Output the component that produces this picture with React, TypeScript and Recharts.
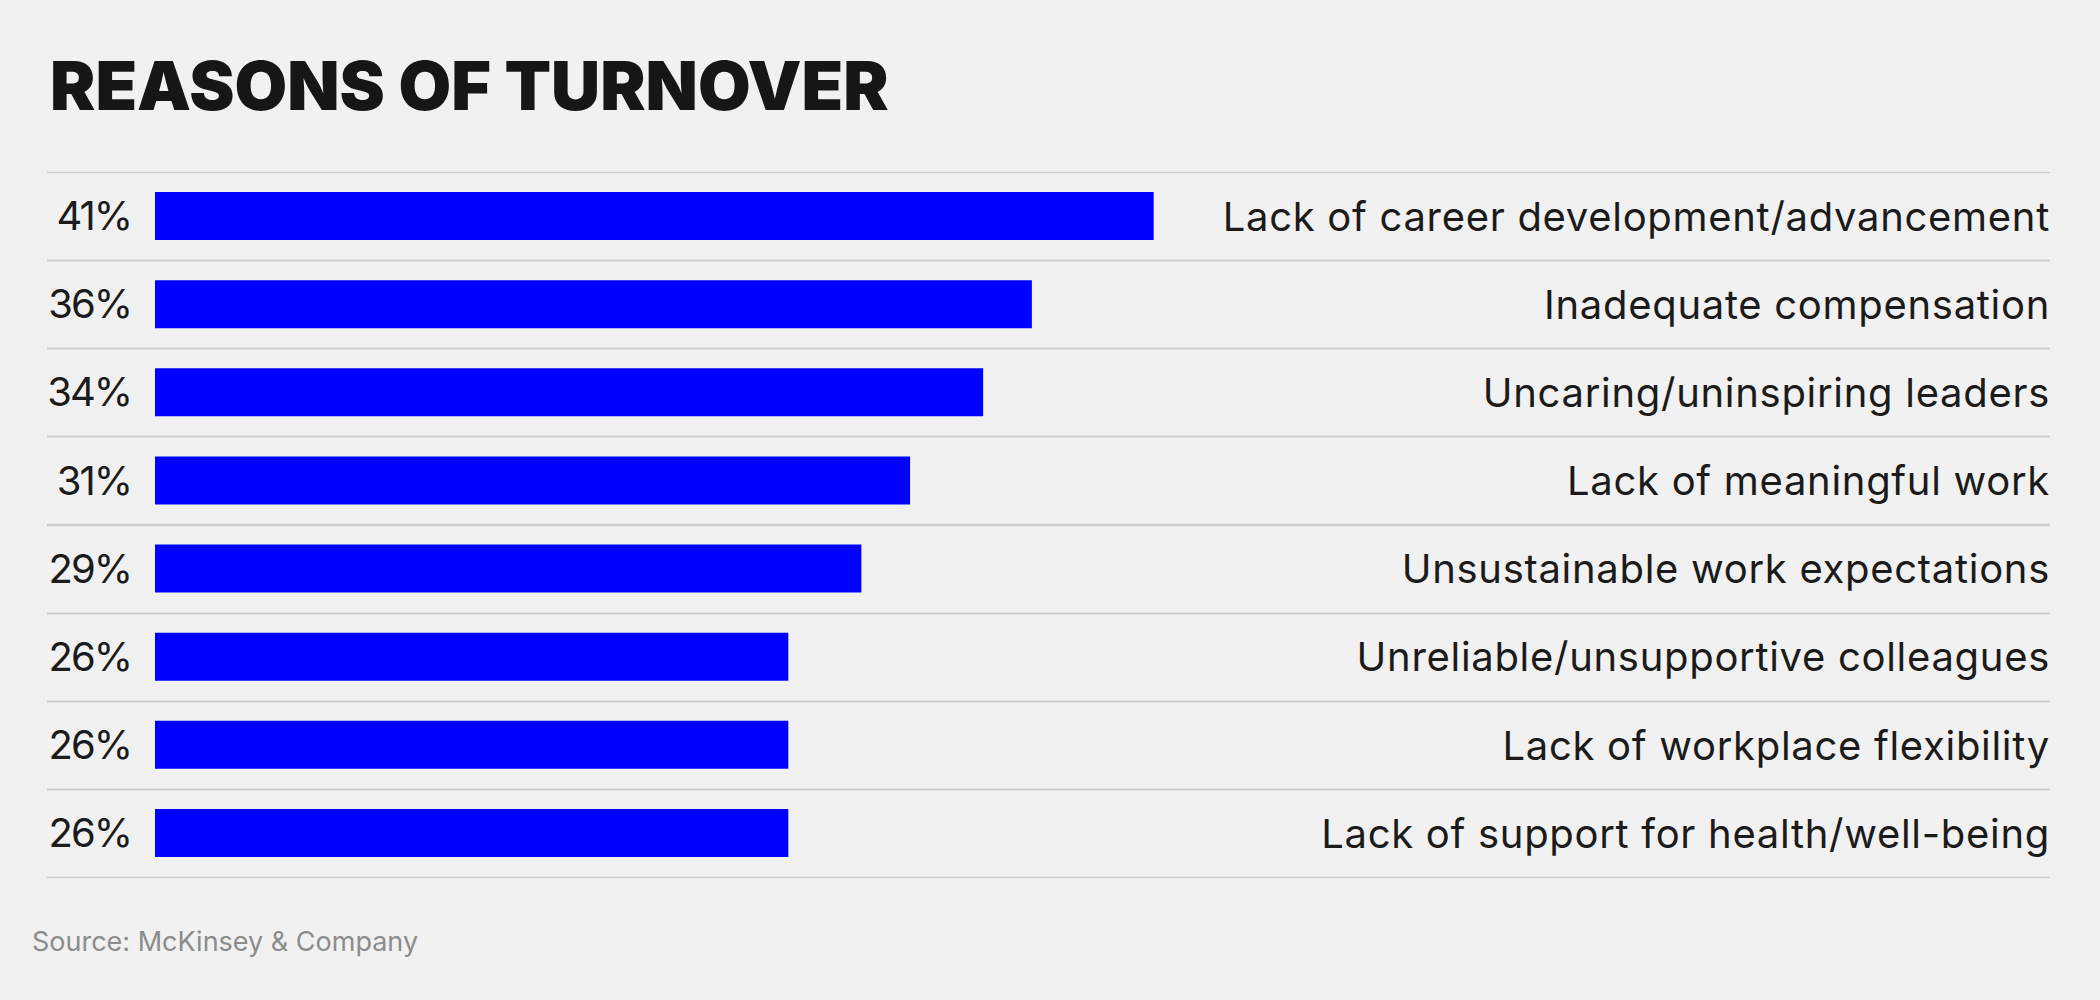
import React from "react";
import { BarChart, Bar, XAxis, YAxis, LabelList } from "recharts";

const reasons = [
  "Lack of career development/advancement",
  "Inadequate compensation",
  "Uncaring/uninspiring leaders",
  "Lack of meaningful work",
  "Unsustainable work expectations",
  "Unreliable/unsupportive colleagues",
  "Lack of workplace flexibility",
  "Lack of support for health/well-being",
];

const shares = [41, 36, 34, 31, 29, 26, 26, 26];

const data = reasons.map((reason, i) => ({ reason, share: shares[i] }));

const ROW_GAP = 20; // space above/below each bar inside its row
const RULE_LEFT = 108; // rules start left of the bars, under the % labels
const FONT = "Inter, 'Noto Sans', sans-serif";

// draws the thin separator lines at the top and bottom of each row
const RowRules = (props: any) => {
  const { x, y, width, height } = props;
  const top = Math.round(y - ROW_GAP) + 0.5;
  const bottom = Math.round(y + height + ROW_GAP) + 0.5;
  return (
    <g>
      <line x1={x - RULE_LEFT} x2={x + width} y1={top} y2={top} stroke="#cdcdcd" strokeWidth={1.5} />
      <line x1={x - RULE_LEFT} x2={x + width} y1={bottom} y2={bottom} stroke="#cdcdcd" strokeWidth={1.5} />
    </g>
  );
};

const ReasonTick = (props: any) => {
  const { x, y, payload } = props;
  return (
    <text
      x={x}
      y={y}
      dy="0.37em"
      textAnchor="end"
      fill="#1b1b1b"
      fontSize={40}
      letterSpacing={0.7}
      fontFamily={FONT}
    >
      {payload.value}
    </text>
  );
};

export default function App() {
  return (
    <div style={{ position: "relative", width: 2100, height: 1000, background: "#f1f1f1" }}>
      <style>{`body{margin:0}`}</style>
      <BarChart
        width={2100}
        height={1000}
        data={data}
        layout="vertical"
        barCategoryGap={ROW_GAP}
        margin={{ top: 172, right: 50, bottom: 123, left: 155 }}
      >
        <XAxis type="number" domain={[0, 77.8]} hide />
        <YAxis
          type="category"
          dataKey="reason"
          orientation="right"
          mirror
          width={1}
          tickLine={false}
          axisLine={false}
          tickSize={0}
          tickMargin={0}
          tick={<ReasonTick />}
        />
        <Bar
          dataKey="share"
          fill="#0000ff"
          isAnimationActive={false}
          background={(p: any) => <RowRules key={`rule-${p.index}`} {...p} />}
        >
          <LabelList
            dataKey="share"
            position="left"
            offset={24}
            formatter={(v: any) => `${v}%`}
            fill="#1b1b1b"
            fontSize={40}
            letterSpacing={-2}
            fontFamily={FONT}
          />
        </Bar>
      </BarChart>
      <svg
        width={2100}
        height={1000}
        style={{ position: "absolute", left: 0, top: 0, pointerEvents: "none" }}
      >
        <text x={50} y={110} fontSize={68} fontWeight={900} fill="#161616" fontFamily={FONT}>
          REASONS OF TURNOVER
        </text>
        <text x={32} y={951} fontSize={27} fill="#8c8c8c" fontFamily={FONT}>
          Source: McKinsey &amp; Company
        </text>
      </svg>
    </div>
  );
}
